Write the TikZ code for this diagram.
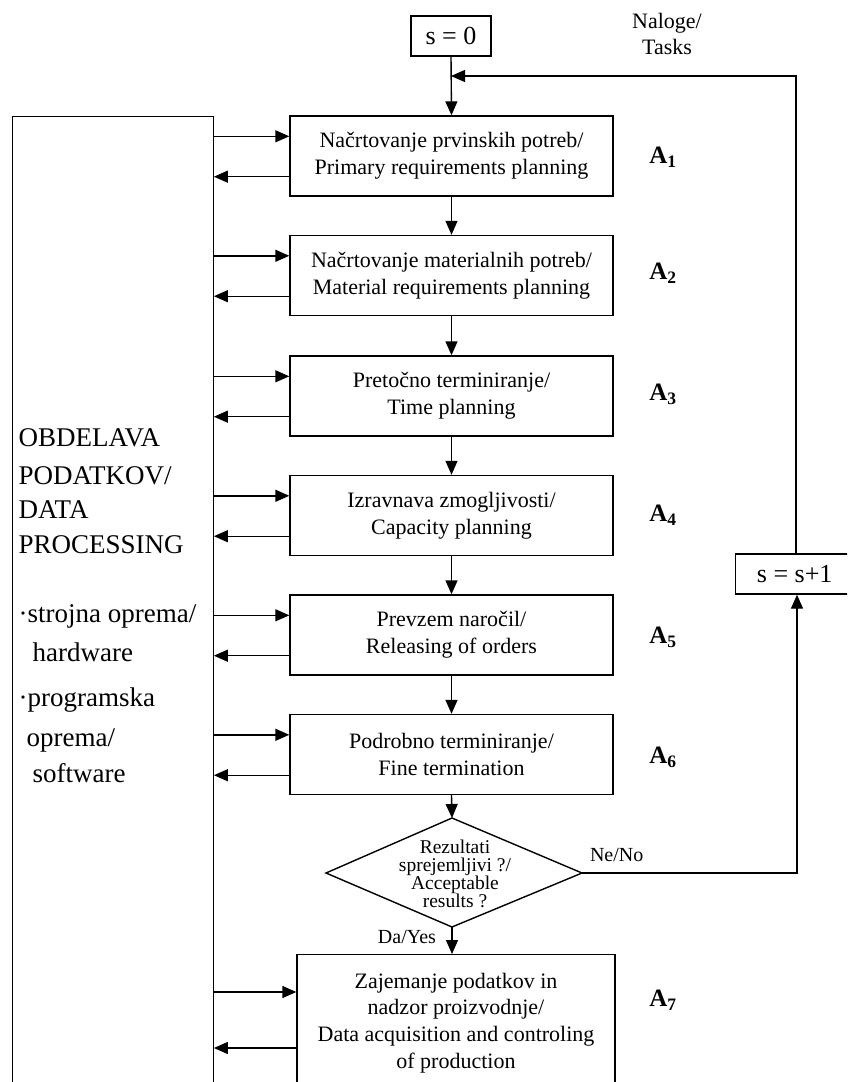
\documentclass[tikz,border=0pt]{standalone}
\usepackage{fontspec}
\setmainfont{Liberation Serif}
\usetikzlibrary{arrows.meta,shapes.geometric,calc}
\begin{document}
\begin{tikzpicture}[x=1pt,y=-1pt,
  line width=1.4pt,
  arr/.style={-{Triangle[length=14pt,width=12pt]}},
  proc/.style={draw, minimum width=323pt, minimum height=80pt, align=center,
    font=\fontsize{22}{27}\selectfont, inner sep=0pt},
  alab/.style={font=\fontsize{25}{28}\selectfont\bfseries},
  lbl/.style={font=\fontsize{20}{22}\selectfont},
  dtext/.style={font=\fontsize{27}{30}\selectfont, anchor=base west, inner sep=0pt},
  sbox/.style={draw, font=\fontsize{26}{28}\selectfont, inner sep=0pt},
]
\clip (0,0) rectangle (847,1082);
\fill[white] (0,0) rectangle (847,1082);

% start
\node[sbox, minimum width=80pt, minimum height=40pt] (s0) at (451,36) {s = 0};
\node[align=center, font=\fontsize{22}{26}\selectfont] (tasks) at (667,34) {Naloge/\\Tasks};

% process boxes
\node[proc] (a1) at (451.5,156) {Načrtovanje prvinskih potreb/\\Primary requirements planning};
\node[proc] (a2) at (451.5,275.5) {Načrtovanje materialnih potreb/\\Material requirements planning};
\node[proc] (a3) at (451.5,396) {Pretočno terminiranje/\\Time planning};
\node[proc] (a4) at (451.5,515.5) {Izravnava zmogljivosti/\\Capacity planning};
\node[proc] (a5) at (451.5,635) {Prevzem naročil/\\Releasing of orders};
\node[proc] (a6) at (451.5,754.5) {Podrobno terminiranje/\\ Fine termination};

% decision diamond
\coordinate (dect) at (452,818);
\coordinate (decr) at (582,873);
\coordinate (decb) at (452,927);
\coordinate (decl) at (326,873);
\draw[line join=miter] (dect) -- (decr) -- (decb) -- (decl) -- cycle;
\node[align=center, inner sep=0pt, font=\fontsize{19.5}{18}\selectfont] (dec) at (455,874)
  {Rezultati\\sprejemljivi ?/\\Acceptable\\results ?};

\node[proc, minimum width=318pt, minimum height=170pt, anchor=north] (a7) at (456,954)
  {};
\node[align=center, font=\fontsize{22}{26.7}\selectfont] (a7t) at (456,1023)
  {Zajemanje podatkov in\\nadzor proizvodnje/\\Data acquisition and controling\\of production};

% labels A
\node[alab] (l1) at (663,157) {A$_{\mathbf{1}}$};
\node[alab] (l2) at (663,273) {A$_{\mathbf{2}}$};
\node[alab] (l3) at (663,394) {A$_{\mathbf{3}}$};
\node[alab] (l4) at (663,515) {A$_{\mathbf{4}}$};
\node[alab] (l5) at (663,637) {A$_{\mathbf{5}}$};
\node[alab] (l6) at (663,757) {A$_{\mathbf{6}}$};
\node[alab] (l7) at (663,1000) {A$_{\mathbf{7}}$};

% left data processing box
\node[draw, minimum width=201pt, minimum height=1000pt, anchor=north west, inner sep=0pt] (dp) at (11.5,116) {};
\node[dtext] (t1) at (18,446) {OBDELAVA};
\node[dtext] (t2) at (18,484) {PODATKOV/};
\node[dtext] (t3) at (18,518) {DATA};
\node[dtext] (t4) at (18,553) {PROCESSING};
\node[dtext] (t5) at (18,622) {·strojna oprema/};
\node[dtext] (t6) at (32,661) {hardware};
\node[dtext] (t7) at (18,706) {·programska};
\node[dtext] (t8) at (26,746) {oprema/};
\node[dtext] (t9) at (32,782) {software};

% s = s+1
\node[sbox, minimum width=122pt, minimum height=40pt, anchor=west] (s1) at (735,574) {\hspace*{-4pt}s = s+1};

% main flow
\draw[arr] (s0.south) -- (a1.north);
\draw[arr] (a1) -- (a2);
\draw[arr] (a2) -- (a3);
\draw[arr] (a3) -- (a4);
\draw[arr] (a4) -- (a5);
\draw[arr] (a5) -- (a6);
\draw[arr] (a6.south) -- (dect);
\draw[arr] (decb) -- (a7.north -| decb);
\node[lbl, anchor=east] (da) at (440,937) {Da/Yes};
\node[lbl, anchor=south west] (ne) at (586,866) {Ne/No};

% feedback loop
\coordinate (fb) at (796,76);
\coordinate (s1in) at ($(s1.south west)+(62,0)$);
\coordinate (s1out) at ($(s1.north west)+(61,0)$);
\draw[arr] (decr) -| (s1in);
\draw[arr] (s1out) |- (fb) -- (s0.south |- fb);

% exchanges with data processing
\foreach \b in {a1,a2,a3,a4,a5,a6}{
  \coordinate (\b-in) at ($(\b.north west)+(0,21)$);
  \coordinate (\b-out) at ($(\b.south west)+(0,-20)$);
  \draw[arr] (dp.east |- \b-in) -- (\b-in);
  \draw[arr] (\b-out) -- (dp.east |- \b-out);
}
\coordinate (a7-in) at ($(a7.north west)+(0,38)$);
\coordinate (a7-out) at ($(a7.north west)+(0,94)$);
\draw[arr] (dp.east |- a7-in) -- (a7-in);
\draw[arr] (a7-out) -- (dp.east |- a7-out);
\end{tikzpicture}
\end{document}
